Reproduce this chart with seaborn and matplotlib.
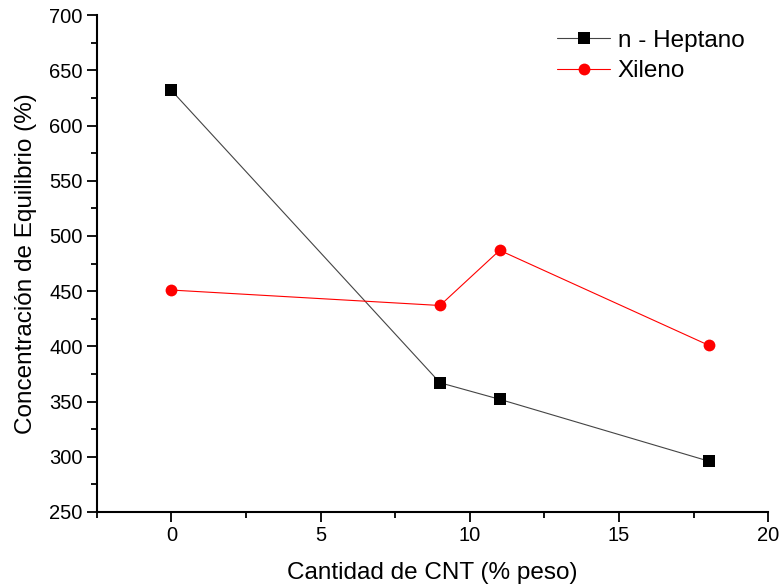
import numpy as np
import pandas as pd
import matplotlib
matplotlib.use("Agg")
import matplotlib.pyplot as plt
from matplotlib.ticker import MultipleLocator
import seaborn as sns

cnt = [0, 9, 11, 18]
heptano = [632, 367, 352, 296]
xileno = [451, 437, 487, 401]
series_names = ["n - Heptano", "Xileno"]

df = pd.DataFrame({
    "cnt": cnt * 2,
    "conc": heptano + xileno,
    "solvente": [series_names[0]] * len(cnt) + [series_names[1]] * len(cnt),
})

sns.set_theme(style="ticks")
plt.rcParams["font.family"] = ["Liberation Sans", "DejaVu Sans"]
plt.rcParams["text.color"] = "black"
plt.rcParams["axes.labelcolor"] = "black"

fig = plt.figure(figsize=(7.8, 5.87), dpi=100)
ax = fig.add_axes([0.124, 0.128, 0.861, 0.846])

sns.lineplot(
    data=df, x="cnt", y="conc", hue="solvente", style="solvente",
    palette={series_names[0]: "black", series_names[1]: "#ff0000"},
    markers={series_names[0]: "s", series_names[1]: "o"},
    dashes=False, markersize=8.5, linewidth=0.8, markeredgewidth=0,
    ax=ax,
)
# thin grey connecting line for the heptane series
ax.lines[0].set_color("#444444")
ax.lines[0].set_markerfacecolor("black")
ax.lines[0].set_markeredgecolor("black")

ax.set_xlim(-2.5, 20)
ax.set_ylim(250, 700)
ax.xaxis.set_major_locator(MultipleLocator(5))
ax.xaxis.set_minor_locator(MultipleLocator(2.5))
ax.yaxis.set_major_locator(MultipleLocator(50))
ax.yaxis.set_minor_locator(MultipleLocator(25))

sns.despine(ax=ax)
for s in ("left", "bottom"):
    ax.spines[s].set_linewidth(1.5)
    ax.spines[s].set_color("black")
ax.tick_params(which="major", direction="out", length=7.2, width=1.3, labelsize=14.5,
               colors="black", pad=3)
ax.tick_params(which="minor", direction="out", length=4.3, width=1.3, colors="black")

ax.set_xlabel("Cantidad de CNT (% peso)", fontsize=17.5, labelpad=12)
ax.set_ylabel("Concentración de Equilibrio (%)", fontsize=17.5, labelpad=9)

leg = ax.legend(
    loc="upper right", bbox_to_anchor=(0.997, 1.015), frameon=False,
    fontsize=17.5, handlelength=2.2, handletextpad=0.3, labelspacing=0.35,
)
for h in leg.legend_handles:
    h.set_linewidth(0.8)
leg.legend_handles[0].set_color("#444444")
leg.legend_handles[0].set_markerfacecolor("black")

fig.savefig("out.png", dpi=100)
